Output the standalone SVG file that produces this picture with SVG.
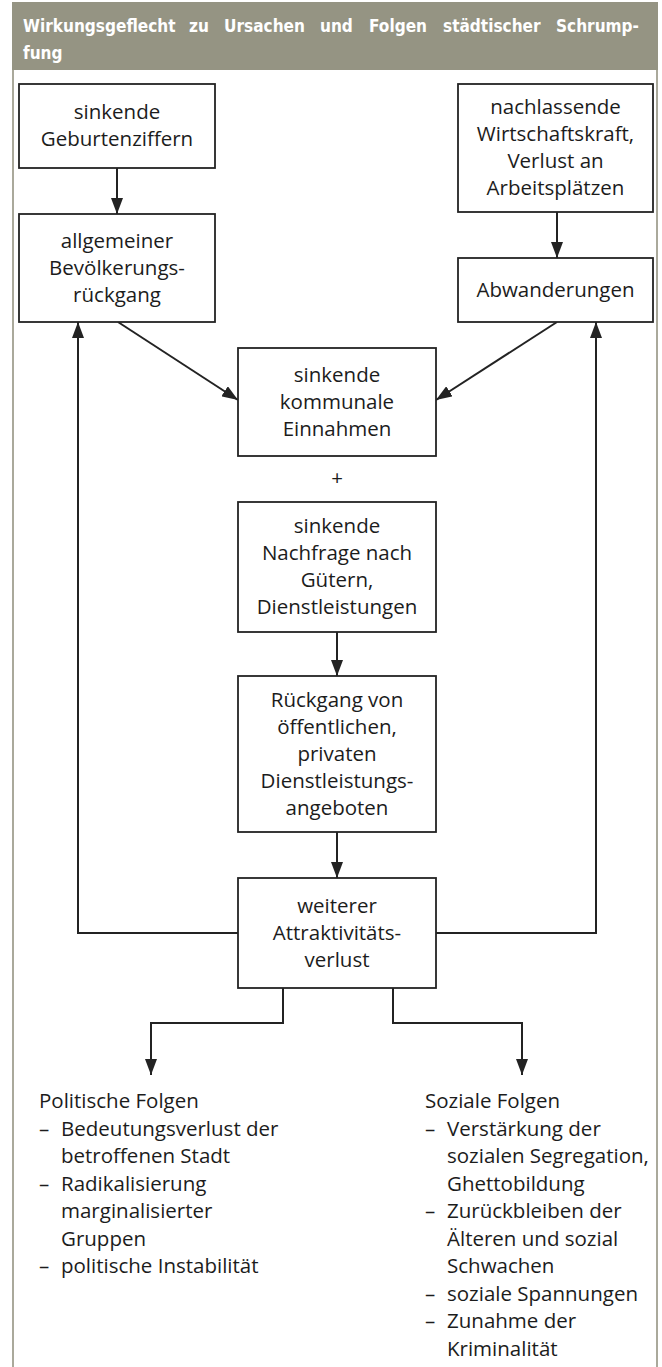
<svg xmlns="http://www.w3.org/2000/svg" width="662" height="1367" viewBox="0 0 662 1367">
<style>
.box{fill:#fff;stroke:#232323;stroke-width:1.8}
.t{font-family:"Open Sans","Noto Sans","Liberation Sans",sans-serif;font-size:20.5px;fill:#1c1c1c}
.c{text-anchor:middle}
.hd{font-family:"DejaVu Sans","Liberation Sans",sans-serif;font-weight:bold;font-size:18.5px;fill:#fff}
.ln{fill:none;stroke:#232323;stroke-width:2}
</style>
<defs>
<marker id="ah" viewBox="0 0 16 12" refX="16" refY="6" markerWidth="16" markerHeight="12" markerUnits="userSpaceOnUse" orient="auto">
<path d="M0,0 L16,6 L0,12 z" fill="#232323"/>
</marker>
</defs>
<rect x="0" y="0" width="662" height="1367" fill="#fff"/>
<g id="header">
<rect x="12" y="2" width="646" height="68" fill="#959483"/>
<text class="hd" transform="translate(23,32) scale(0.83,1)">Wirkungsgeflecht</text>
<text class="hd" transform="translate(189,32) scale(0.83,1)">zu</text>
<text class="hd" transform="translate(224,32) scale(0.83,1)">Ursachen</text>
<text class="hd" transform="translate(320,32) scale(0.83,1)">und</text>
<text class="hd" transform="translate(369,32) scale(0.83,1)">Folgen</text>
<text class="hd" transform="translate(443,32) scale(0.83,1)">städtischer</text>
<text class="hd" transform="translate(556,32) scale(0.83,1)">Schrump-</text>
<text class="hd" transform="translate(23,59) scale(0.83,1)">fung</text>
</g>
<g id="frame" fill="none" stroke="#aaa99b" stroke-width="2">
<line x1="13" y1="70" x2="13" y2="1367"/>
<line x1="657" y1="70" x2="657" y2="1367"/>
</g>
<g id="connectors">
<path class="ln" d="M117,168 V214" marker-end="url(#ah)"/>
<path class="ln" d="M557,212 V258" marker-end="url(#ah)"/>
<path class="ln" d="M118,322 L238,400" marker-end="url(#ah)"/>
<path class="ln" d="M557,322 L436,400" marker-end="url(#ah)"/>
<path class="ln" d="M337,632 V676" marker-end="url(#ah)"/>
<path class="ln" d="M337,832 V878" marker-end="url(#ah)"/>
<path class="ln" d="M238,933 H78 V322" marker-end="url(#ah)"/>
<path class="ln" d="M436,933 H596 V322" marker-end="url(#ah)"/>
<path class="ln" d="M283,988 V1023 H151 V1075" marker-end="url(#ah)"/>
<path class="ln" d="M393,988 V1023 H522 V1075" marker-end="url(#ah)"/>
</g>
<g id="n1">
<rect class="box" x="19" y="84" width="196" height="84"/>
<text class="t c" x="117" y="119">sinkende</text>
<text class="t c" x="117" y="146">Geburtenziffern</text>
</g>
<g id="n2">
<rect class="box" x="19" y="214" width="196" height="108"/>
<text class="t c" x="117" y="247.5">allgemeiner</text>
<text class="t c" x="117" y="274.5">Bevölkerungs-</text>
<text class="t c" x="117" y="301.5">rückgang</text>
</g>
<g id="n3">
<rect class="box" x="458" y="84" width="195" height="128"/>
<text class="t c" x="555.5" y="114">nachlassende</text>
<text class="t c" x="555.5" y="141">Wirtschaftskraft,</text>
<text class="t c" x="555.5" y="168">Verlust an</text>
<text class="t c" x="555.5" y="195">Arbeitsplätzen</text>
</g>
<g id="n4">
<rect class="box" x="458" y="258" width="195" height="64"/>
<text class="t c" x="555.5" y="296.5">Abwanderungen</text>
</g>
<g id="n5">
<rect class="box" x="238" y="348" width="198" height="108"/>
<text class="t c" x="337" y="381.5">sinkende</text>
<text class="t c" x="337" y="408.5">kommunale</text>
<text class="t c" x="337" y="435.5">Einnahmen</text>
</g>
<g id="plus">
<text class="t c" x="337" y="485">+</text>
</g>
<g id="n6">
<rect class="box" x="238" y="502" width="198" height="130"/>
<text class="t c" x="337" y="533">sinkende</text>
<text class="t c" x="337" y="560">Nachfrage nach</text>
<text class="t c" x="337" y="587">Gütern,</text>
<text class="t c" x="337" y="614">Dienstleistungen</text>
</g>
<g id="n7">
<rect class="box" x="238" y="676" width="198" height="156"/>
<text class="t c" x="337" y="706.5">Rückgang von</text>
<text class="t c" x="337" y="733.5">öffentlichen,</text>
<text class="t c" x="337" y="760.5">privaten</text>
<text class="t c" x="337" y="787.5">Dienstleistungs-</text>
<text class="t c" x="337" y="814.5">angeboten</text>
</g>
<g id="n8">
<rect class="box" x="238" y="878" width="198" height="110"/>
<text class="t c" x="337" y="912.5">weiterer</text>
<text class="t c" x="337" y="939.5">Attraktivitäts-</text>
<text class="t c" x="337" y="966.5">verlust</text>
</g>
<g id="n9">
<text class="t" x="39" y="1108">Politische Folgen</text>
<text class="t" x="39" y="1135.5">–</text>
<text class="t" x="61" y="1135.5">Bedeutungsverlust der</text>
<text class="t" x="61" y="1163">betroffenen Stadt</text>
<text class="t" x="39" y="1190.5">–</text>
<text class="t" x="61" y="1190.5">Radikalisierung</text>
<text class="t" x="61" y="1218">marginalisierter</text>
<text class="t" x="61" y="1245.5">Gruppen</text>
<text class="t" x="39" y="1273">–</text>
<text class="t" x="61" y="1273">politische Instabilität</text>
</g>
<g id="n10">
<text class="t" x="425" y="1108">Soziale Folgen</text>
<text class="t" x="425" y="1135.5">–</text>
<text class="t" x="447" y="1135.5">Verstärkung der</text>
<text class="t" x="447" y="1163">sozialen Segregation,</text>
<text class="t" x="447" y="1190.5">Ghettobildung</text>
<text class="t" x="425" y="1218">–</text>
<text class="t" x="447" y="1218">Zurückbleiben der</text>
<text class="t" x="447" y="1245.5">Älteren und sozial</text>
<text class="t" x="447" y="1273">Schwachen</text>
<text class="t" x="425" y="1300.5">–</text>
<text class="t" x="447" y="1300.5">soziale Spannungen</text>
<text class="t" x="425" y="1328">–</text>
<text class="t" x="447" y="1328">Zunahme der</text>
<text class="t" x="447" y="1355.5">Kriminalität</text>
</g>
</svg>
